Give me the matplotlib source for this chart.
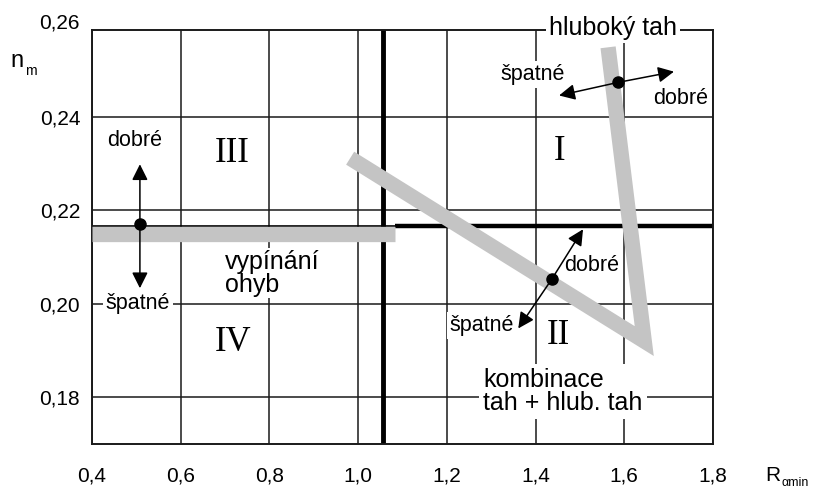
import matplotlib
matplotlib.use("Agg")
import matplotlib.pyplot as plt
import matplotlib.transforms as mtransforms

plt.rcParams["font.family"] = ["Liberation Sans", "DejaVu Sans"]

# axes
x_ticks = [0.4, 0.6, 0.8, 1.0, 1.2, 1.4, 1.6, 1.8]
x_labels = ["0,4", "0,6", "0,8", "1,0", "1,2", "1,4", "1,6", "1,8"]
y_ticks = [0.18, 0.20, 0.22, 0.24]
y_labels = ["0,18", "0,20", "0,22", "0,24"]
y_top_label = (0.26, "0,26")

# dividing lines between regions
divide_x = 1.056
divide_y = 0.2167
divide_thin_x = [0.40, 1.083]
divide_thick_x = [1.083, 1.80]

# gray process bands
stretch_x = [0.40, 1.083]
stretch_y = [0.2148, 0.2148]
combo_x = [0.982, 1.645, 1.5635]
combo_y = [0.2311, 0.1920, 0.2548]

# points with good / bad directions: (dot, tip_good, tip_bad)
arrow_sets = [
    ((0.508, 0.2170), (0.508, 0.2298), (0.508, 0.2033)),
    ((1.586, 0.2473), (1.712, 0.2496), (1.453, 0.2445)),
    ((1.437, 0.2053), (1.507, 0.2159), (1.361, 0.1947)),
]
good_labels = [(0.497, 0.2348), (1.726, 0.2439), (1.527, 0.2081)]
bad_labels = [(0.504, 0.2000), (1.394, 0.2490), (1.279, 0.1953)]

regions = ["I", "II", "III", "IV"]
region_xy = [(1.453, 0.2326), (1.451, 0.1932), (0.716, 0.2320), (0.718, 0.1917)]

fig = plt.figure(figsize=(8.17, 4.90), dpi=100)
ax = fig.add_axes([92 / 817, 46 / 490, 621 / 817, 414 / 490])
ax.set_xlim(0.4, 1.8)
ax.set_ylim(0.17, 0.2585)

ax.set_xticks(x_ticks)
ax.set_xticklabels(x_labels, fontsize=15)
ax.set_yticks(y_ticks)
ax.set_yticklabels(y_labels, fontsize=15)
ax.tick_params(length=0)
ax.tick_params(axis="x", pad=16)
ax.tick_params(axis="y", pad=8.5)
trans = mtransforms.blended_transform_factory(ax.transAxes, ax.transData)
ax.text(-12 / 621, y_top_label[0], y_top_label[1], transform=trans,
        ha="right", va="center", fontsize=15)

ax.grid(True, color="#1a1a1a", linewidth=1.1)
ax.set_axisbelow(True)
for sp in ax.spines.values():
    sp.set_linewidth(1.4)
    sp.set_color("#1a1a1a")

ax.axvline(divide_x, color="black", linewidth=3.5, zorder=2)
ax.plot(divide_thin_x, [divide_y, divide_y], color="black", linewidth=1.2, zorder=2)
ax.plot(divide_thick_x, [divide_y, divide_y], color="black", linewidth=3.2, zorder=2,
        solid_capstyle="butt")

band_color = "#c4c4c4"
ax.plot(stretch_x, stretch_y, color=band_color, linewidth=11, zorder=3,
        solid_capstyle="butt")
ax.plot(combo_x, combo_y, color=band_color, linewidth=11, zorder=3,
        solid_capstyle="butt", solid_joinstyle="miter")

head = "-|>,head_length=0.6,head_width=0.3"
for dot, good, bad in arrow_sets:
    for tip in (good, bad):
        ax.annotate("", xy=tip, xytext=dot, zorder=6,
                    arrowprops=dict(arrowstyle=head, color="black", lw=1.1,
                                    mutation_scale=16, shrinkA=0, shrinkB=0))
    ax.plot(dot[0], dot[1], "o", color="black", markersize=8, zorder=7)

box = dict(facecolor="white", edgecolor="none", pad=2)
for x, y in good_labels:
    ax.text(x, y, "dobré", ha="center", va="center", fontsize=15.5, zorder=4, bbox=box)
for x, y in bad_labels:
    ax.text(x, y, "špatné", ha="center", va="center", fontsize=15.5, zorder=4, bbox=box)

for name, (x, y) in zip(regions, region_xy):
    ax.text(x, y, name, ha="center", va="center", fontsize=25,
            family="Liberation Serif", zorder=4)

ax.text(0.70, 0.2065, "vypínání\nohyb", ha="left", va="center", fontsize=18,
        linespacing=0.95, zorder=4, bbox=dict(facecolor="white", edgecolor="none", pad=1))
ax.text(1.282, 0.1812, "kombinace\ntah + hlub. tah", ha="left", va="center",
        fontsize=18, linespacing=0.95, zorder=4,
        bbox=dict(facecolor="white", edgecolor="none", pad=3))
ax.text(1.575, 0.2589, "hluboký tah", ha="center", va="center", fontsize=18,
        zorder=4, bbox=dict(facecolor="white", edgecolor="none", pad=2))

fig.text(10 / 817, 1 - 67 / 490, "n", fontsize=17, va="baseline")
fig.text(25 / 817, 1 - 75 / 490, "m", fontsize=10, va="baseline")
fig.text(765 / 817, 1 - 481 / 490, "R", fontsize=15, va="baseline")
fig.text(781 / 817, 1 - 486 / 490, "αmin", fontsize=9, va="baseline")

fig.savefig("out.png", dpi=100)
